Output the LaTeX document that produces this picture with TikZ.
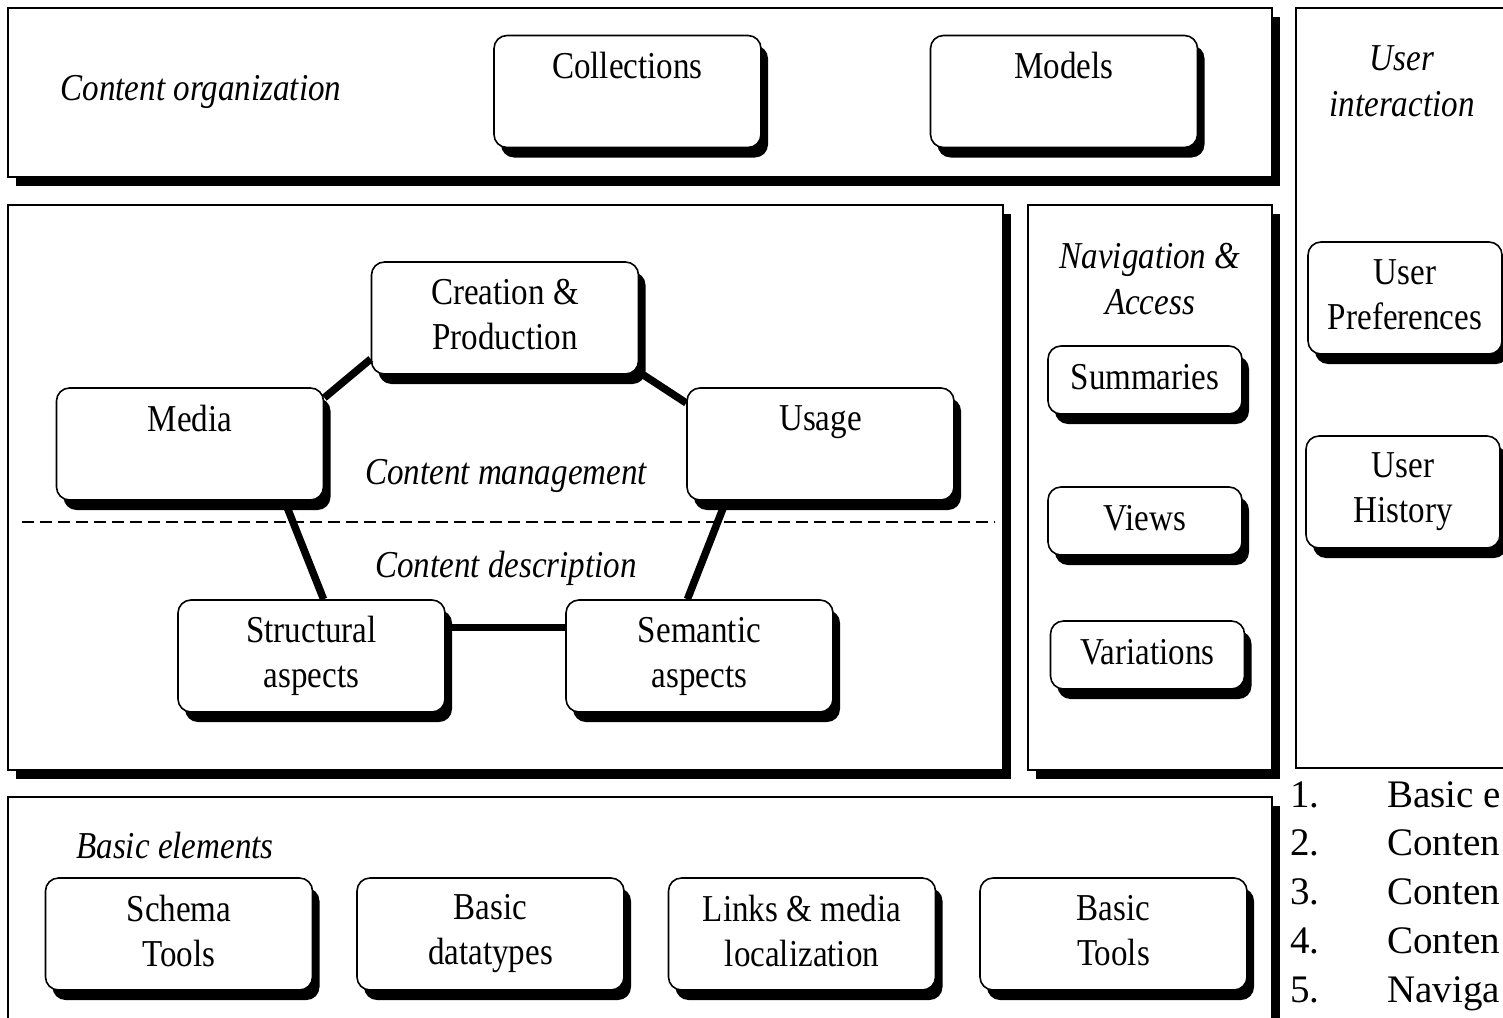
\documentclass[tikz,border=0pt]{standalone}
\usepackage{fontspec}
\setmainfont{Liberation Serif}
\newfontfamily\diafont[FakeStretch=0.87]{Liberation Serif}
\usetikzlibrary{positioning,shadows}

\tikzset{
  boxshadow/.style={drop shadow={shadow xshift=7pt,shadow yshift=-10pt,fill=black,opacity=1}},
  panelshadow/.style={drop shadow={shadow xshift=8pt,shadow yshift=-9pt,fill=black,opacity=1}},
  boxbase/.style={draw,line width=1.6pt,fill=white,rounded corners=13pt,inner sep=0pt,
    align=center,font=\diafont\fontsize{38}{45}\selectfont,boxshadow},
  unit/.style={boxbase,minimum width=267pt,minimum height=112pt,
    execute at begin node=\rule{0pt}{39pt},execute at end node=\rule[-7pt]{0pt}{0pt}},
  smallunit/.style={boxbase,minimum width=194pt,minimum height=68pt,
    execute at begin node=\strut,execute at end node=\strut},
  panel/.style={draw,line width=2pt,fill=white},
  areaname/.style={inner sep=0pt,align=center,font=\diafont\itshape\fontsize{38}{46}\selectfont},
  link/.style={line width=7.5pt},
  listitem/.style={anchor=base west,inner sep=0pt,font=\fontsize{39}{45}\selectfont}
}

\begin{document}
\begin{tikzpicture}[x=1pt,y=-1pt,node distance=311.5pt,on grid]
\useasboundingbox (0,0) rectangle (1503,1017);
\clip (0,0) rectangle (1503,1017);

% areas
\draw[panel,panelshadow] (8,8) rectangle (1272,177);
\draw[panel] (1296,8) rectangle (1540,768);
\draw[panel,panelshadow] (8,205) rectangle (1003,770);
\draw[panel,panelshadow] (1028,205) rectangle (1272,770);
\draw[panel,panelshadow] (8,797) rectangle (1272,1040);

\node[areaname] (orgname)  at (201,92)  {Content organization};
\node[areaname] (username) at (1402,81) {User\\interaction};
\node[areaname] (navname)  at (1150,279) {Navigation \&\\Access};
\node[areaname] (mgmtname) at (506,476) {Content management};
\node[areaname] (descname) at (506,568) {Content description};
\node[areaname] (elemname) at (175,845) {Basic elements};

% content organization
\node[unit] (collections) at (627.5,91.5) {Collections\\};
\node[unit] (models) [right=436.5pt of collections] {Models\\};

% content management / description
\node[unit] (creation)   at (505,318)   {Creation \&\\Production};
\node[unit] (media)      at (190,444)   {Media\\};
\node[unit] (usage)      at (820.5,444) {Usage\\};
\node[unit] (structural) at (311.5,656) {Structural\\aspects};
\node[unit] (semantic)   at (699.5,656) {Semantic\\aspects};

\coordinate (dashL) at (22,522);
\coordinate (dashR) at (995,522);
\draw[line width=2.5pt,dash pattern=on 12pt off 6pt] (dashL) -- (dashR);

\path[link]
  (media.19.5)  edge (creation.197.5)
  (creation.-22) edge (usage.163)
  (media.-31)   edge (structural.78)
  (usage.211)   edge (semantic.102)
  (structural.12) edge (structural.12 -| semantic.west);

% navigation & access
\node[smallunit] (summaries) at (1145,380) {Summaries};
\node[smallunit] (views) [below=141pt of summaries] {Views};
\node[smallunit] (variations) at (1147.5,655) {Variations};

% user interaction
\node[unit,minimum width=194pt] (userpref) at (1405,298) {User\\Preferences};
\node[unit,minimum width=194pt] (userhist) at (1403,492) {User\\History};

% basic elements
\node[unit] (schema) at (179,934) {Schema\\Tools};
\node[unit] (datatypes) [right=of schema] {Basic\\datatypes};
\node[unit] (links) [right=of datatypes] {Links \& media\\localization};
\node[unit] (basictools) [right=of links] {Basic\\Tools};

% list, cut at the right edge
\foreach \num/\entry [count=\row from 0] in {1/Basic e,2/Conten,3/Conten,4/Conten,5/Naviga}{
  \node[listitem] (num\num) at (1290,807+48.75*\row) {\num.};
  \node[listitem] (entry\num) at (1387,807+48.75*\row) {\entry};
}
\end{tikzpicture}
\end{document}
